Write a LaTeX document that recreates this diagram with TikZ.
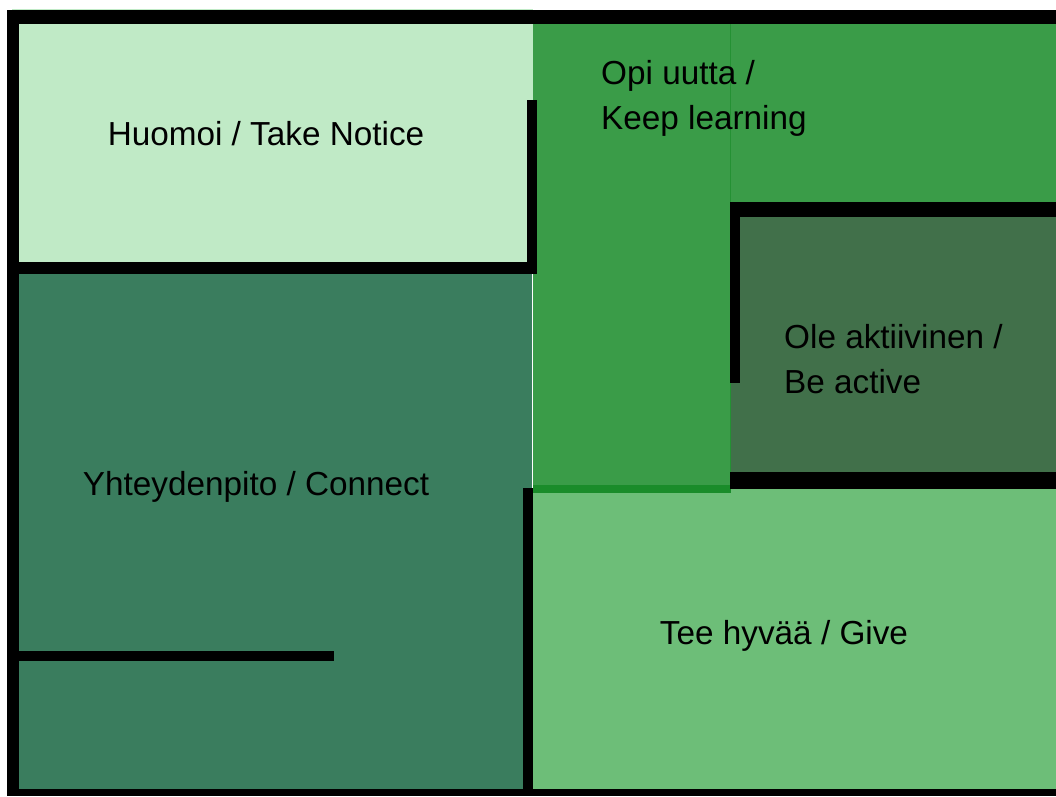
\documentclass[tikz,border=0pt]{standalone}
\usepackage{fontspec}
\setmainfont{Liberation Sans}
\usetikzlibrary{positioning}
\definecolor{notice}{HTML}{C0EAC6}
\definecolor{learn}{HTML}{3A9C48}
\definecolor{active}{HTML}{41704A}
\definecolor{give}{HTML}{6DBE78}
\definecolor{connect}{HTML}{3A7D5E}
\definecolor{strip}{HTML}{1A8C2A}
\tikzset{wall/.style={fill=black}}
\tikzset{roomtext/.style={font=\fontsize{33.3}{45}\selectfont, inner sep=0pt}}

\begin{document}
\begin{tikzpicture}[x=1pt,y=-1pt]
  \useasboundingbox (0,0) rectangle (1056,796);

  % rooms
  \fill[notice] (12,9) rectangle (533,262);
  \fill[learn] (533,24) rectangle (1056,203);
  \fill[learn] (533,203) rectangle (731,489);
  \fill[active] (731,203) rectangle (1056,480);
  \fill[give] (533,489) rectangle (1056,789);
  \fill[connect] (19,274) rectangle (532,789);
  \fill[strip] (533,485) rectangle (731,493);
  \draw[strip!70!learn, thin] (730,24)--(730,485);

  % walls
  \fill[wall] (8,10) rectangle (1056,24);
  \fill[wall] (7,10) rectangle (19,796);
  \fill[wall] (7,789) rectangle (1056,796);
  \fill[wall] (8,262) rectangle (537,274);
  \fill[wall] (527,100) rectangle (537,274);
  \fill[wall] (730,202) rectangle (1056,217);
  \fill[wall] (730,202) rectangle (740,383);
  \fill[wall] (730,472) rectangle (1056,489);
  \fill[wall] (523,488) rectangle (533,789);
  \fill[wall] (19,651) rectangle (334,661);

  \node[roomtext] (notice) at (266,134) {Huomoi / Take Notice};
  \node[roomtext, anchor=west, align=left] (learning) at (601,98) {Opi uutta /\\Keep learning};
  \node[roomtext, anchor=west, align=left] (active) at (784,359) {Ole aktiivinen /\\Be active};
  \node[roomtext] (connect) at (256,487) {Yhteydenpito / Connect};
  \node[roomtext] (give) at (784,636) {Tee hyvää / Give};
\end{tikzpicture}
\end{document}
